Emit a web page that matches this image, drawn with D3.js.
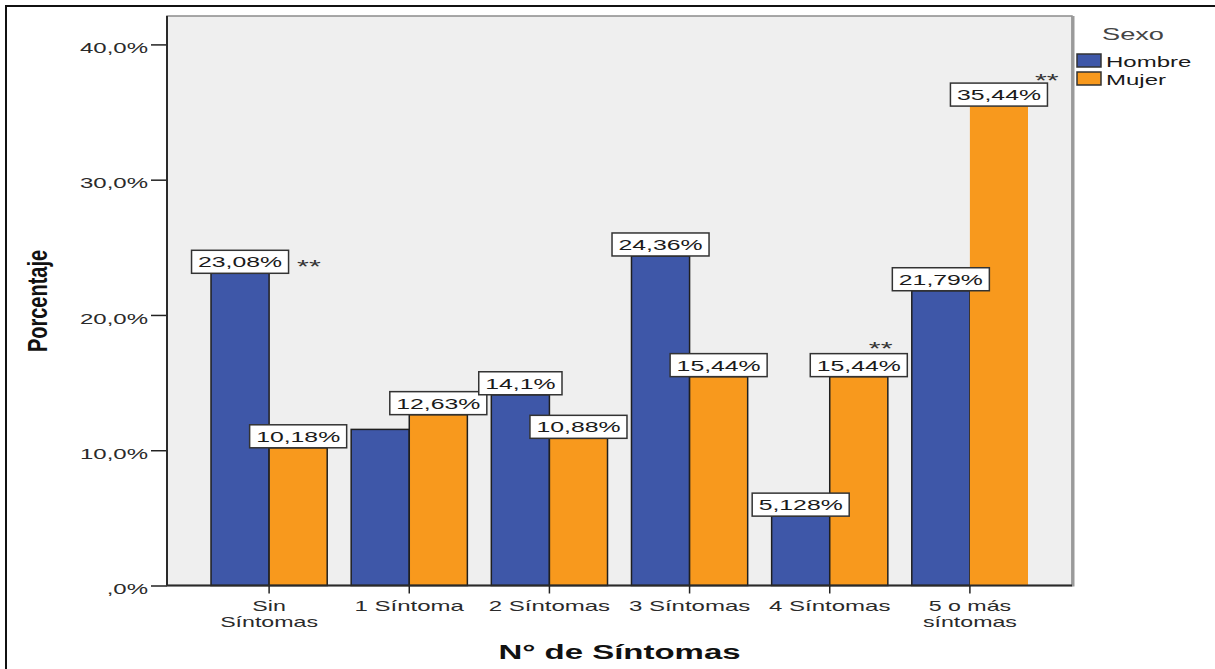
<!DOCTYPE html>
<html>
<head>
<meta charset="utf-8">
<script src="https://cdn.jsdelivr.net/npm/d3@7"></script>
<style>
  body { margin: 0; background: #fff; }
  svg text { font-family: "Liberation Sans", Arial, sans-serif; }
</style>
</head>
<body>
<div id="chart"></div>
<script>
// data
const categorias = ["Sin\nSíntomas", "1 Síntoma", "2 Síntomas", "3 Síntomas", "4 Síntomas", "5 o más\nsíntomas"];
const sexos = ["Hombre", "Mujer"];
const hombre = [23.08, 11.54, 14.1, 24.36, 5.128, 21.79];
const mujer = [10.18, 12.63, 10.88, 15.44, 15.44, 35.44];
const hombreLabels = ["23,08%", null, "14,1%", "24,36%", "5,128%", "21,79%"];
const mujerLabels = ["10,18%", "12,63%", "10,88%", "15,44%", "15,44%", "35,44%"];
const yTicks = [0, 10, 20, 30, 40];
const yTickLabels = [",0%", "10,0%", "20,0%", "30,0%", "40,0%"];
// "**" marks: which bar, and offset from that bar's top-right corner
const estrellas = [
  {cat: 0, sexo: "Hombre", dx: 28, dy: -11},
  {cat: 4, sexo: "Mujer", dx: -19, dy: -33},
  {cat: 5, sexo: "Mujer", dx: 7, dy: -30}
];

const W = 1215, H = 669;
const SX = 1.6; // the reference text is stretched sideways
const pLeft = 167, pRight = 1072, pTop = 16, pBottom = 585.5;
const colors = {Hombre: "#3e57a8", Mujer: "#f8991d"};

const svg = d3.select("#chart").append("svg")
  .attr("width", W).attr("height", H);

// outer frame
svg.append("path")
  .attr("d", `M6,${H} L6,6 L${W},6`)
  .attr("fill", "none").attr("stroke", "#111").attr("stroke-width", 2);

const x = d3.scaleBand().domain(d3.range(categorias.length))
  .range([pLeft, pRight]).paddingInner(0.171).paddingOuter(0.314);
const xs = d3.scaleBand().domain(sexos).range([0, x.bandwidth()]);
const y = d3.scaleLinear().domain([0, 42.1]).range([pBottom, pTop]);

// plot area
svg.append("rect")
  .attr("x", pLeft).attr("y", pTop)
  .attr("width", pRight - pLeft).attr("height", pBottom - pTop)
  .attr("fill", "#efefef").attr("stroke", "#8c8c8c").attr("stroke-width", 1.5);
svg.append("line")
  .attr("x1", pRight + 1).attr("x2", pRight + 1).attr("y1", pTop).attr("y2", pBottom + 1)
  .attr("stroke", "#9a9a9a").attr("stroke-width", 3);

const rows = [];
categorias.forEach((c, i) => {
  rows.push({i: i, sexo: "Hombre", v: hombre[i], lab: hombreLabels[i]});
  rows.push({i: i, sexo: "Mujer", v: mujer[i], lab: mujerLabels[i]});
});

svg.selectAll("rect.bar")
  .data(rows)
  .enter()
  .append("rect")
  .attr("class", "bar")
  .attr("x", d => x(d.i) + xs(d.sexo))
  .attr("y", d => y(d.v))
  .attr("width", xs.bandwidth())
  .attr("height", d => y(0) - y(d.v))
  .attr("fill", d => colors[d.sexo])
  .attr("stroke", d => (d.i == 5 && d.sexo == "Mujer") ? "none" : "#1f1f1f")
  .attr("stroke-width", 1.5);

// axes
const yAxis = d3.axisLeft(y).tickValues(yTicks)
  .tickFormat((d, i) => yTickLabels[i]).tickSize(16).tickPadding(3);
const gy = svg.append("g").attr("transform", `translate(${pLeft},0)`).call(yAxis);
gy.select(".domain").remove();
gy.selectAll(".tick line").attr("stroke", "#222").attr("stroke-width", 1.5);
gy.selectAll(".tick text")
  .attr("font-size", 15).attr("fill", "#2a2a2a")
  .attr("x", -19 / SX).attr("dy", "0.55em")
  .attr("transform", `scale(${SX},1)`);

const xAxis = d3.axisBottom(x).tickSize(8).tickFormat(i => categorias[i]);
const gx = svg.append("g").attr("transform", `translate(0,${pBottom})`).call(xAxis);
gx.select(".domain").remove();
gx.selectAll(".tick line").attr("stroke", "#222").attr("stroke-width", 1.5);
gx.selectAll(".tick text").remove();
gx.selectAll(".tick").each(function(i) {
  const t = d3.select(this);
  const lines = categorias[i].split("\n");
  lines.forEach((ln, k) => {
    t.append("text")
      .attr("font-size", lines.length > 1 ? 14.5 : 15)
      .attr("fill", "#2a2a2a").attr("text-anchor", "middle")
      .attr("transform", `translate(0,${25 + k * 16.5}) scale(${SX},1)`)
      .text(ln);
  });
});

svg.append("line").attr("x1", pLeft).attr("x2", pLeft).attr("y1", pTop).attr("y2", pBottom)
  .attr("stroke", "#2a2a2a").attr("stroke-width", 2);
svg.append("line").attr("x1", pLeft).attr("x2", pRight).attr("y1", pBottom).attr("y2", pBottom)
  .attr("stroke", "#2a2a2a").attr("stroke-width", 2);

// value labels
const lab = svg.selectAll("g.lab")
  .data(rows.filter(d => d.lab))
  .enter()
  .append("g")
  .attr("class", "lab")
  .attr("transform", d => `translate(${x(d.i) + xs(d.sexo) + xs.bandwidth() / 2},${y(d.v)})`);
lab.append("rect");
lab.append("text")
  .attr("text-anchor", "middle")
  .attr("font-size", 15.5).attr("fill", "#1a1a1a")
  .attr("transform", `translate(0,-6) scale(${SX},1)`)
  .text(d => d.lab);
lab.each(function() {
  const g = d3.select(this);
  const w = g.select("text").node().getComputedTextLength() * SX + 13;
  g.select("rect")
    .attr("x", -w / 2).attr("y", -23)
    .attr("width", w).attr("height", 23)
    .attr("fill", "#fff").attr("stroke", "#333").attr("stroke-width", 1.5);
});

// ** marks
svg.selectAll("text.star")
  .data(estrellas)
  .enter()
  .append("text")
  .attr("class", "star")
  .attr("font-size", 19).attr("fill", "#333")
  .attr("transform", d => {
    const v = d.sexo == "Hombre" ? hombre[d.cat] : mujer[d.cat];
    const bx = x(d.cat) + xs(d.sexo) + xs.bandwidth() + d.dx;
    return `translate(${bx},${y(v) + d.dy + 11}) scale(${SX},1)`;
  })
  .text("**");

// axis titles
svg.append("text")
  .attr("text-anchor", "middle").attr("font-size", 20).attr("font-weight", "bold")
  .attr("fill", "#111")
  .attr("transform", `translate(${(pLeft + pRight) / 2},659) scale(1.65,1)`)
  .text("N° de Síntomas");
svg.append("text")
  .attr("text-anchor", "middle").attr("font-size", 20).attr("font-weight", "bold")
  .attr("fill", "#111").attr("dy", "0.35em")
  .attr("transform", "translate(38,301) scale(1.35,1) rotate(-90)")
  .text("Porcentaje");

// legend
const lg = svg.append("g").attr("transform", "translate(1077,0)");
lg.append("text")
  .attr("font-size", 17).attr("fill", "#444")
  .attr("transform", `translate(25,40) scale(${SX},1)`)
  .text("Sexo");
sexos.forEach((s, k) => {
  lg.append("rect")
    .attr("x", 0).attr("y", 54 + k * 18)
    .attr("width", 24).attr("height", 13)
    .attr("fill", colors[s]).attr("stroke", "#333").attr("stroke-width", 1.5);
  lg.append("text")
    .attr("font-size", 15).attr("fill", "#1a1a1a")
    .attr("transform", `translate(29,${67 + k * 18}) scale(${SX},1)`)
    .text(s);
});
</script>
</body>
</html>
